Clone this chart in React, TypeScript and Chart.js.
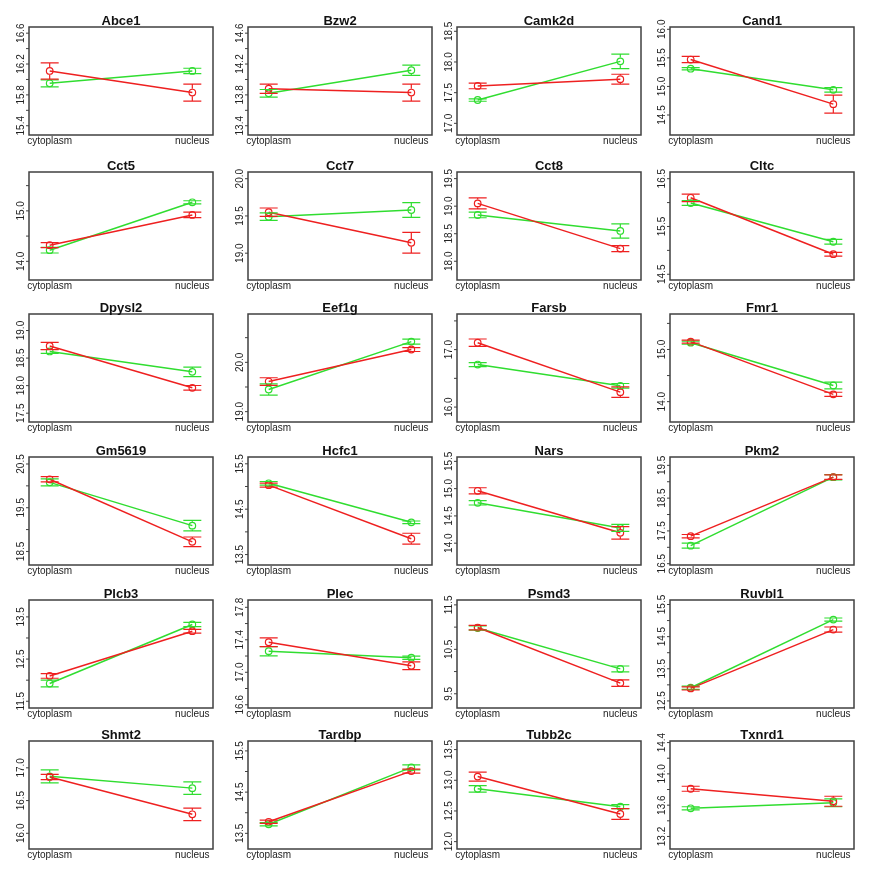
import React, { useEffect, useRef } from "react";
import { Chart, registerables } from "chart.js";
Chart.register(...registerables);

const genes = ["Abce1", "Bzw2", "Camk2d", "Cand1", "Cct5", "Cct7", "Cct8", "Cltc", "Dpysl2", "Eef1g", "Farsb", "Fmr1", "Gm5619", "Hcfc1", "Nars", "Pkm2", "Plcb3", "Plec", "Psmd3", "Ruvbl1", "Shmt2", "Tardbp", "Tubb2c", "Txnrd1"];
const categories = ["cytoplasm", "nucleus"];

// [cytoplasm, nucleus]
const redMeans = [
  [16.11, 15.83], [13.88, 13.83], [17.61, 17.72], [15.47, 14.69],
  [14.32, 14.92], [19.55, 19.14], [19.05, 18.23], [16.10, 14.92],
  [18.72, 17.96], [19.61, 20.26], [17.12, 16.26], [15.15, 14.14],
  [20.15, 18.72], [15.03, 13.85], [14.96, 14.19], [17.34, 19.14],
  [12.10, 13.16], [17.37, 17.08], [10.99, 9.74], [12.89, 14.72],
  [16.86, 16.29], [13.78, 15.01], [13.06, 12.45], [13.81, 13.65],
];
const redErrors = [
  [0.105, 0.11], [0.06, 0.11], [0.046, 0.08], [0.055, 0.157],
  [0.05, 0.055], [0.057, 0.14], [0.1, 0.055], [0.078, 0.04],
  [0.066, 0.042], [0.077, 0.04], [0.065, 0.09], [0.03, 0.04],
  [0.06, 0.11], [0.045, 0.12], [0.056, 0.115], [0.05, 0.07],
  [0.055, 0.045], [0.053, 0.048], [0.05, 0.075], [0.05, 0.08],
  [0.04, 0.095], [0.04, 0.05], [0.074, 0.087], [0.032, 0.064],
];
const greenMeans = [
  [15.95, 16.11], [13.82, 14.12], [17.38, 18.01], [15.31, 14.94],
  [14.22, 15.17], [19.49, 19.58], [18.84, 18.55], [15.99, 15.18],
  [18.62, 18.25], [19.45, 20.42], [16.74, 16.37], [15.13, 14.31],
  [20.08, 19.09], [15.07, 14.21], [14.74, 14.28], [17.05, 19.14],
  [11.92, 13.32], [17.26, 17.18], [10.98, 10.06], [12.91, 15.03],
  [16.87, 16.69], [13.72, 15.10], [12.86, 12.57], [13.56, 13.63],
];
const greenErrors = [
  [0.045, 0.035], [0.05, 0.066], [0.02, 0.117], [0.02, 0.04],
  [0.055, 0.03], [0.05, 0.1], [0.05, 0.13], [0.05, 0.05],
  [0.036, 0.087], [0.115, 0.05], [0.035, 0.04], [0.03, 0.065],
  [0.08, 0.12], [0.04, 0.03], [0.04, 0.065], [0.075, 0.08],
  [0.08, 0.05], [0.057, 0.02], [0.05, 0.065], [0.05, 0.05],
  [0.1, 0.095], [0.04, 0.06], [0.052, 0.033], [0.02, 0.05],
];
const yMins = [15.28, 13.28, 16.81, 14.15, 13.63, 18.64, 17.66, 14.38, 17.34, 18.79, 15.74, 13.61, 18.19, 13.27, 13.60, 16.46, 11.34, 16.56, 9.18, 12.28, 15.76, 13.12, 11.88, 13.04];
const yMaxs = [16.68, 14.68, 18.57, 16.04, 15.77, 20.09, 19.62, 16.64, 19.30, 20.98, 17.62, 15.68, 20.66, 15.65, 15.58, 19.755, 13.9, 17.89, 11.61, 15.64, 17.41, 15.74, 13.64, 14.42];
const yTickSteps = [0.2, 0.2, 0.5, 0.5, 0.5, 0.5, 0.5, 0.5, 0.5, 0.5, 0.5, 0.5, 0.5, 0.5, 0.5, 0.5, 0.5, 0.2, 0.5, 0.5, 0.5, 0.5, 0.5, 0.2];
const yLabelEvery = [2, 2, 1, 1, 2, 1, 1, 2, 1, 2, 2, 2, 2, 2, 1, 2, 2, 2, 2, 2, 1, 2, 1, 2];

const RED = "#ee2020";
const GREEN = "#30dd30";
const colLefts = [29, 248, 457, 670];
const rowTops = [27, 172, 314, 457, 600, 741];
const BOX_W = 184;
const BOX_H = 108;
const CW = 219;
const CH = 160;
const FONT = '"Liberation Sans", Arial, sans-serif';

function makeConfig(idx: number): any {
  const mk = (means: number[], errs: number[], color: string, label: string) => ({
    label,
    data: means.map((m, i) => ({ x: i, y: m })),
    errs,
    borderColor: color,
    backgroundColor: color,
    borderWidth: 1.5,
    pointRadius: 3.3,
    pointBorderWidth: 1.2,
    pointBorderColor: color,
    pointBackgroundColor: "rgba(0,0,0,0)",
    tension: 0,
    fill: false,
  });
  const datasets = [
    mk(redMeans[idx], redErrors[idx], RED, "red"),
    mk(greenMeans[idx], greenErrors[idx], GREEN, "green"),
  ];
  const plugin = {
    id: "rstyle" + idx,
    afterDatasetsDraw(chart: any) {
      const { ctx, scales } = chart;
      const xs = scales.x, ys = scales.y;
      ctx.save();
      for (let d = chart.data.datasets.length - 1; d >= 0; d--) {
        const ds = chart.data.datasets[d];
        ctx.strokeStyle = ds.borderColor;
        ctx.lineWidth = 1.2;
        ds.data.forEach((p: any, i: number) => {
          const e = ds.errs[i];
          const px = xs.getPixelForValue(p.x);
          const yc = ys.getPixelForValue(p.y);
          const yt = ys.getPixelForValue(p.y + e);
          const yb = ys.getPixelForValue(p.y - e);
          const r = 3.8;
          ctx.beginPath();
          if (yt < yc - r) { ctx.moveTo(px, yt); ctx.lineTo(px, yc - r); }
          if (yb > yc + r) { ctx.moveTo(px, yc + r); ctx.lineTo(px, yb); }
          ctx.moveTo(px - 9, yt); ctx.lineTo(px + 9, yt);
          ctx.moveTo(px - 9, yb); ctx.lineTo(px + 9, yb);
          ctx.stroke();
        });
      }
      ctx.restore();
    },
    afterDraw(chart: any) {
      const { ctx, chartArea: a, scales } = chart;
      const xs = scales.x, ys = scales.y;
      ctx.save();
      ctx.strokeStyle = "#404040";
      ctx.lineWidth = 1.5;
      ctx.strokeRect(a.left, a.top, a.right - a.left, a.bottom - a.top);
      // title
      ctx.fillStyle = "#111";
      ctx.font = "bold 13px " + FONT;
      ctx.textAlign = "center";
      ctx.textBaseline = "alphabetic";
      ctx.fillText(genes[idx], (a.left + a.right) / 2, a.top - 2);
      // x labels
      ctx.font = "10px " + FONT;
      ctx.fillStyle = "#222";
      categories.forEach((c, i) => {
        ctx.fillText(c, xs.getPixelForValue(i), a.bottom + 9);
      });
      // y ticks
      const step = yTickSteps[idx];
      const first = Math.ceil(yMins[idx] / step - 1e-9) * step;
      let k = 0;
      ctx.lineWidth = 1;
      ctx.strokeStyle = "#404040";
      for (let v = first; v <= yMaxs[idx] + 1e-9; v += step, k++) {
        const py = ys.getPixelForValue(v);
        ctx.beginPath();
        ctx.moveTo(a.left - 3, py);
        ctx.lineTo(a.left, py);
        ctx.stroke();
        if (k % yLabelEvery[idx] === 0) {
          ctx.save();
          ctx.translate(a.left - 7.5, py);
          ctx.rotate(-Math.PI / 2);
          ctx.textAlign = "center";
          ctx.textBaseline = "middle";
          ctx.fillText(v.toFixed(1), 0, 0);
          ctx.restore();
        }
      }
      ctx.restore();
    },
  };
  return {
    type: "line",
    data: { datasets },
    options: {
      responsive: false,
      animation: false,
      layout: { padding: { left: 29, top: 27, right: CW - 29 - BOX_W, bottom: CH - 27 - BOX_H } },
      plugins: { legend: { display: false }, tooltip: { enabled: false }, title: { display: false } },
      scales: {
        x: { type: "linear", min: -0.145, max: 1.145, display: false },
        y: { type: "linear", min: yMins[idx], max: yMaxs[idx], display: false },
      },
    },
    plugins: [plugin],
  };
}

function Panel({ idx }: { idx: number }) {
  const ref = useRef<HTMLCanvasElement>(null);
  useEffect(() => {
    const chart = new Chart(ref.current as HTMLCanvasElement, makeConfig(idx));
    return () => chart.destroy();
  }, [idx]);
  const col = idx % 4;
  const row = Math.floor(idx / 4);
  return (
    <canvas
      ref={ref}
      width={CW}
      height={CH}
      style={{ position: "absolute", left: colLefts[col] - 29, top: rowTops[row] - 27, width: CW, height: CH }}
    />
  );
}

export default function App() {
  return (
    <div style={{ position: "absolute", left: 0, top: 0, width: 879, height: 879, background: "#fff" }}>
      {genes.map((g, i) => (
        <Panel key={g} idx={i} />
      ))}
    </div>
  );
}
